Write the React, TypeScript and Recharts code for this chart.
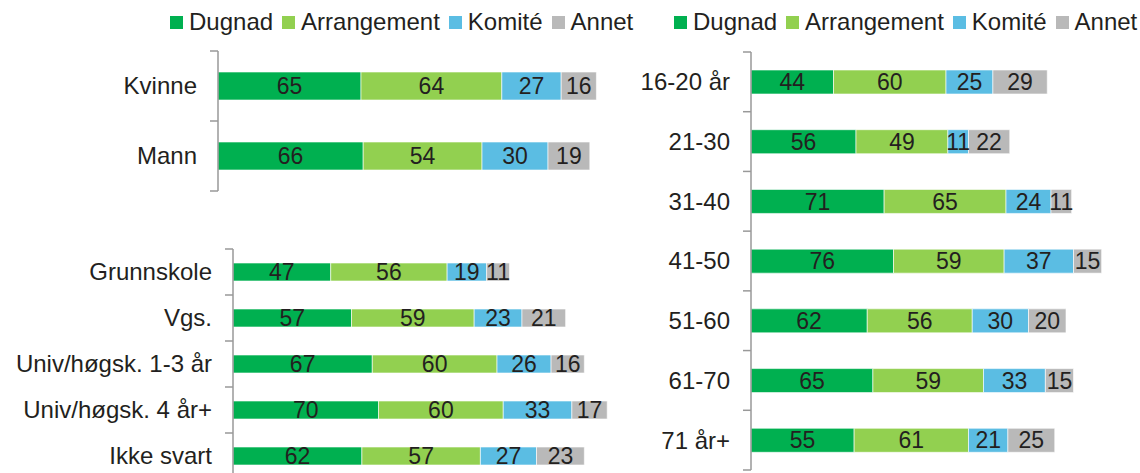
import { BarChart, Bar, XAxis, YAxis, Legend, LabelList } from "recharts";

const genderCats = ["Kvinne", "Mann"];
const genderDugnad = [65, 66];
const genderArrangement = [64, 54];
const genderKomite = [27, 30];
const genderAnnet = [16, 19];

const eduCats = ["Grunnskole", "Vgs.", "Univ/høgsk. 1-3 år", "Univ/høgsk. 4 år+", "Ikke svart"];
const eduDugnad = [47, 57, 67, 70, 62];
const eduArrangement = [56, 59, 60, 60, 57];
const eduKomite = [19, 23, 26, 33, 27];
const eduAnnet = [11, 21, 16, 17, 23];

const ageCats = ["16-20 år", "21-30", "31-40", "41-50", "51-60", "61-70", "71 år+"];
const ageDugnad = [44, 56, 71, 76, 62, 65, 55];
const ageArrangement = [60, 49, 65, 59, 56, 59, 61];
const ageKomite = [25, 11, 24, 37, 30, 33, 21];
const ageAnnet = [29, 22, 11, 15, 20, 15, 25];

const seriesNames = ["Dugnad", "Arrangement", "Komité", "Annet"];
const colors = ["#00b050", "#92d050", "#5bbde3", "#b9b9b9"];
const keys = ["dugnad", "arrangement", "komite", "annet"];

const TEXT = "#231f20";
const AXIS = "#999999";
const FONT = "'Liberation Sans', Arial, sans-serif";

const build = (cats: string[], a: number[], b: number[], c: number[], d: number[]) =>
  cats.map((cat, i) => ({ cat, dugnad: a[i], arrangement: b[i], komite: c[i], annet: d[i] }));

const genderData = build(genderCats, genderDugnad, genderArrangement, genderKomite, genderAnnet);
const eduData = build(eduCats, eduDugnad, eduArrangement, eduKomite, eduAnnet);
const ageData = build(ageCats, ageDugnad, ageArrangement, ageKomite, ageAnnet);

// category tick with Excel-style marks on the band boundaries
const makeTick = (band: number, count: number) => (props: any) => {
  const { x, y, payload, index } = props;
  const ax = x + 21;
  return (
    <g>
      <text x={x} y={y} dy="0.35em" textAnchor="end" fontSize={24} fill={TEXT}>
        {payload.value}
      </text>
      <line x1={ax - 8} x2={ax} y1={y - band / 2} y2={y - band / 2} stroke={AXIS} strokeWidth={1.5} />
      {index === count - 1 && (
        <line x1={ax - 8} x2={ax} y1={y + band / 2} y2={y + band / 2} stroke={AXIS} strokeWidth={1.5} />
      )}
    </g>
  );
};

const renderLegend = (props: any) => {
  const items = [...(props.payload || [])].sort(
    (a: any, b: any) => seriesNames.indexOf(a.value) - seriesNames.indexOf(b.value)
  );
  return (
    <div style={{ display: "flex", alignItems: "center", fontSize: 24, lineHeight: "28px", color: TEXT, fontFamily: FONT }}>
      {items.map((p: any) => (
        <div key={p.value} style={{ display: "flex", alignItems: "center", marginRight: 9 }}>
          <span style={{ width: 13, height: 13, background: p.color, marginRight: 6, display: "inline-block" }} />
          <span>{p.value}</span>
        </div>
      ))}
    </div>
  );
};

interface PanelProps {
  data: any[];
  width: number;
  height: number;
  margin: { top: number; right: number; bottom: number; left: number };
  axisWidth: number;
  max: number;
  barSize: number;
  legendLeft?: number;
}

const Panel = ({ data, width, height, margin, axisWidth, max, barSize, legendLeft }: PanelProps) => {
  const band = (height - margin.top - margin.bottom) / data.length;
  return (
    <BarChart layout="vertical" width={width} height={height} data={data} margin={margin}>
      <XAxis type="number" domain={[0, max]} hide />
      <YAxis
        type="category"
        dataKey="cat"
        width={axisWidth}
        axisLine={{ stroke: AXIS, strokeWidth: 1.5 }}
        tickLine={false}
        tickSize={8}
        tickMargin={13}
        interval={0}
        tick={makeTick(band, data.length)}
      />
      {legendLeft !== undefined && (
        <Legend
          layout="horizontal"
          align="center"
          verticalAlign="middle"
          width={480}
          wrapperStyle={{ left: legendLeft, top: 8 }}
          content={renderLegend}
        />
      )}
      {keys.map((k, i) => (
        <Bar
          key={k}
          dataKey={k}
          name={seriesNames[i]}
          stackId="a"
          fill={colors[i]}
          stroke="#ffffff"
          strokeOpacity={0.6}
          strokeWidth={1}
          barSize={barSize}
          isAnimationActive={false}
        >
          <LabelList dataKey={k} position="center" fill={TEXT} fontSize={23} />
        </Bar>
      ))}
    </BarChart>
  );
};

export default function App() {
  return (
    <div
      style={{
        position: "absolute",
        left: 0,
        top: 0,
        width: 1140,
        height: 473,
        overflow: "hidden",
        background: "#ffffff",
        fontFamily: FONT,
      }}
    >
      <div style={{ position: "absolute", left: 0, top: 0 }}>
        <Panel
          data={genderData}
          width={640}
          height={200}
          margin={{ top: 51, right: 4, bottom: 9, left: 0 }}
          axisWidth={218}
          max={190}
          barSize={28}
          legendLeft={170}
        />
      </div>
      <div style={{ position: "absolute", left: 0, top: 200 }}>
        <Panel
          data={eduData}
          width={640}
          height={280}
          margin={{ top: 49, right: 12, bottom: 1, left: 0 }}
          axisWidth={233}
          max={190}
          barSize={18}
        />
      </div>
      <div style={{ position: "absolute", left: 630, top: 0 }}>
        <Panel
          data={ageData}
          width={510}
          height={473}
          margin={{ top: 52, right: 14, bottom: 3, left: 0 }}
          axisWidth={121}
          max={200}
          barSize={24}
          legendLeft={44}
        />
      </div>
    </div>
  );
}
